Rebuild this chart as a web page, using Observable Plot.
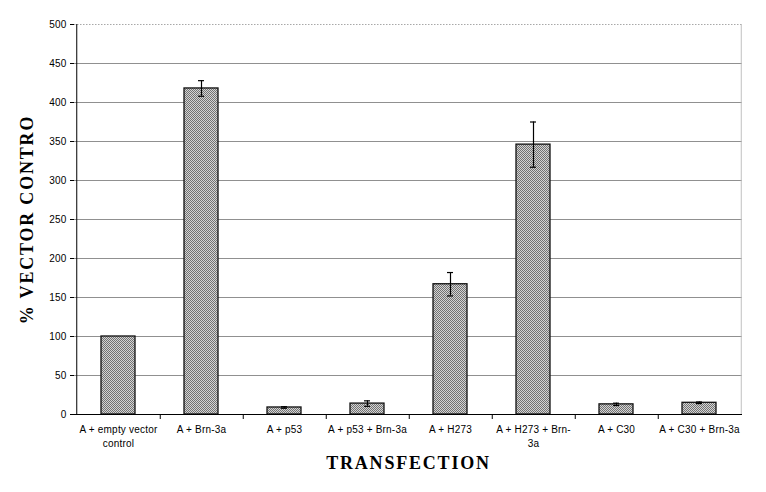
<!DOCTYPE html>
<html>
<head>
<meta charset="utf-8">
<script src="https://cdn.jsdelivr.net/npm/d3@7"></script>
<script src="https://cdn.jsdelivr.net/npm/@observablehq/plot@0.6"></script>
<style>
  html, body { margin: 0; padding: 0; background: #fff; }
</style>
</head>
<body>
<div id="chart"></div>
<script>
const categories = [
  "A + empty vector\ncontrol",
  "A + Brn-3a",
  "A + p53",
  "A + p53 + Brn-3a",
  "A + H273",
  "A + H273 + Brn-\n3a",
  "A + C30",
  "A + C30 + Brn-3a"
];
const values = [100, 418, 9, 14, 167, 346, 13, 15];
const errors = [0, 10, 1, 3.5, 15, 29, 1.5, 1];
const yTicks = [0, 50, 100, 150, 200, 250, 300, 350, 400, 450, 500];
const xTitle = "TRANSFECTION";
const yTitle = "% VECTOR CONTRO";

const W = 766, H = 492, mL = 74, mR = 24, mT = 24, mB = 78;
const step = (W - mL - mR) / categories.length;
const plotH = H - mT - mB;

const data = categories.map((c, i) => ({cat: c, val: values[i], err: errors[i]}));
const withErr = data.filter(d => d.err > 0);

const svg = Plot.plot({
  width: W,
  height: H,
  marginLeft: mL, marginRight: mR, marginTop: mT, marginBottom: mB,
  style: {fontFamily: "'Liberation Sans', Arial, sans-serif", fontSize: "10px", background: "#fff", color: "#000"},
  x: {domain: categories, paddingInner: 0.593, paddingOuter: 0.2965, align: 0.5, label: null},
  y: {domain: [0, 500], label: null},
  marks: [
    Plot.ruleY(yTicks.filter(t => t > 0 && t < 500), {stroke: "#909090", strokeWidth: 1}),
    Plot.ruleY([500], {stroke: "#a8a8a8", strokeDasharray: "1.5,1.5"}),
    Plot.ruleX([categories[categories.length - 1]], {dx: step / 2, stroke: "#c0c0c0"}),
    Plot.barY(data, {x: "cat", y: "val", fill: "url(#hatch)", stroke: "#111", strokeWidth: 1.3}),
    Plot.ruleX(withErr, {x: "cat", y1: d => d.val - d.err, y2: d => d.val + d.err, stroke: "#000", strokeWidth: 1.2}),
    Plot.tickY(withErr, {x: "cat", y: d => d.val + d.err, stroke: "#000", strokeWidth: 1.2, insetLeft: 14, insetRight: 14}),
    Plot.tickY(withErr, {x: "cat", y: d => d.val - d.err, stroke: "#000", strokeWidth: 1.2, insetLeft: 14, insetRight: 14}),
    Plot.ruleY([0], {stroke: "#000", strokeWidth: 1}),
    Plot.ruleX([categories[0]], {dx: -step / 2, stroke: "#000", strokeWidth: 1}),
    Plot.ruleX(categories.slice(0, -1), {dx: step / 2, stroke: "#000", insetTop: plotH, insetBottom: -5}),
    Plot.axisY({ticks: yTicks, tickSize: 4, tickPadding: 4, fontSize: 10, label: null}),
    Plot.axisX({tickSize: 0, tickPadding: 9, fontSize: 10, label: null, lineHeight: 1.35}),
    Plot.text([xTitle], {frameAnchor: "bottom", dy: 54, text: d => d, textAnchor: "middle", fontFamily: "'Liberation Serif', 'Times New Roman', serif", fontWeight: "bold", fontSize: 18, fill: "#000"}),
    Plot.text([yTitle], {frameAnchor: "left", dx: -47, rotate: -90, textAnchor: "middle", text: d => d, fontFamily: "'Liberation Serif', 'Times New Roman', serif", fontWeight: "bold", fontSize: 18, fill: "#000"})
  ]
});

const ns = "http://www.w3.org/2000/svg";
const defs = document.createElementNS(ns, "defs");
const pat = document.createElementNS(ns, "pattern");
pat.setAttribute("id", "hatch");
pat.setAttribute("width", "2");
pat.setAttribute("height", "2");
pat.setAttribute("patternUnits", "userSpaceOnUse");
[[0, 0, 2, 2, "#d4d4d4"], [0, 0, 1, 1, "#727272"], [1, 1, 1, 1, "#727272"]].forEach(([x, y, w, h, f]) => {
  const r = document.createElementNS(ns, "rect");
  r.setAttribute("x", x); r.setAttribute("y", y);
  r.setAttribute("width", w); r.setAttribute("height", h);
  r.setAttribute("fill", f);
  pat.appendChild(r);
});
defs.appendChild(pat);
svg.insertBefore(defs, svg.firstChild);

d3.select(svg).selectAll("text").each(function() {
  const t = this.textContent;
  if (t === xTitle || t === yTitle) this.style.letterSpacing = "1.8px";
  else this.style.letterSpacing = "0.2px";
});

document.getElementById("chart").appendChild(svg);
</script>
</body>
</html>
